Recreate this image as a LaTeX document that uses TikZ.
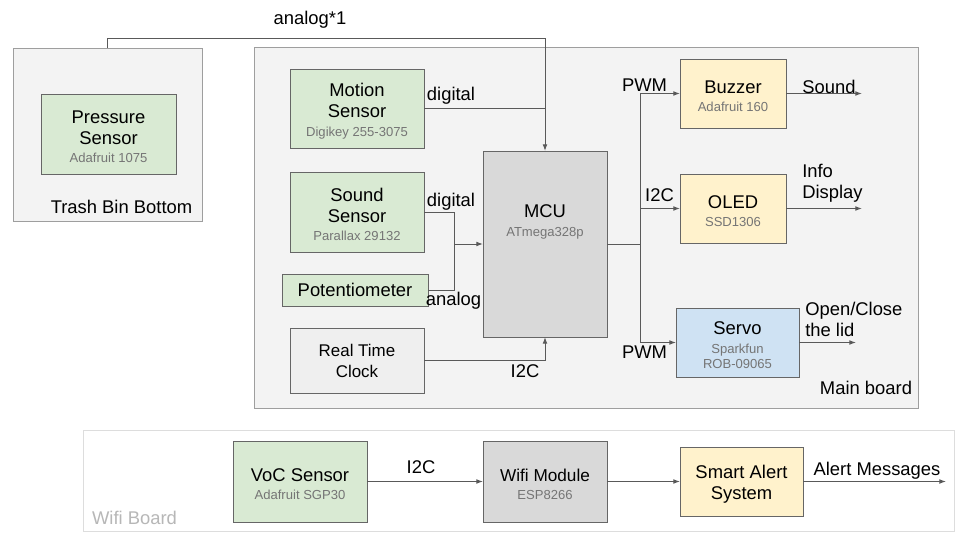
\documentclass[tikz,border=0pt]{standalone}
\usepackage{fontspec}
\setmainfont{Liberation Sans}
\usetikzlibrary{arrows.meta}
\definecolor{lineC}{HTML}{595959}
\definecolor{boxC}{HTML}{666666}
\definecolor{contC}{HTML}{9E9E9E}
\definecolor{contF}{HTML}{F3F3F3}
\definecolor{wifiC}{HTML}{DDDDDD}
\definecolor{grnF}{HTML}{D9EAD3}
\definecolor{ylwF}{HTML}{FFF2CC}
\definecolor{bluF}{HTML}{CFE2F3}
\definecolor{mcuF}{HTML}{D9D9D9}
\definecolor{rtcF}{HTML}{EFEFEF}
\definecolor{subC}{HTML}{757575}
\definecolor{wbC}{HTML}{B7B7B7}
\newcommand{\mainf}{\fontsize{13.8}{15.75}\selectfont}
\newcommand{\subf}{\fontsize{9.8}{11.5}\selectfont\color{subC}}
\newcommand{\rtcf}{\fontsize{12.7}{15.75}\selectfont}
\newcommand{\tp}{\rule{0pt}{14pt}}
\tikzset{
  container/.style={draw=contC, fill=contF, line width=0.75pt, inner sep=0pt, outer sep=0pt},
  blk/.style={draw=boxC, line width=0.75pt, align=center, inner sep=0pt, outer sep=0pt, font=\mainf},
  grn/.style={blk, fill=grnF},
  ylw/.style={blk, fill=ylwF},
  blu/.style={blk, fill=bluF},
  lbl/.style={font=\mainf, inner sep=0pt},
  conn/.style={draw=lineC, line width=0.75pt},
  arr/.style={conn, -{Latex[length=5pt,width=3.6pt]}},
}
\begin{document}
\begin{tikzpicture}[x=0.75pt,y=-0.75pt]
\useasboundingbox (0,0) rectangle (960,540);
% containers
\node[container, minimum width=141.75pt, minimum height=129.75pt] (trash) at (107.5,134.5) {};
\node[container, minimum width=498pt, minimum height=270.75pt] (mainb) at (586,227.5) {};
\node[container, draw=wifiC, fill=white, minimum width=653.25pt, minimum height=75.75pt] (wifib) at (518.5,480.5) {};
% container labels
\node[lbl] (trashl) at (121.5,207) {Trash Bin Bottom};
\node[lbl] (mainl) at (866,388) {Main board};
\node[lbl, text=wbC] (wifil) at (134.5,518) {Wifi Board};
% blocks
\node[grn, minimum width=101.25pt, minimum height=60pt] (press) at (108.5,134) {\tp Pressure\\Sensor\\[-2pt]{\subf Adafruit 1075}};
\node[grn, minimum width=100.5pt, minimum height=59.25pt] (motion) at (357,108.5) {\tp Motion\\Sensor\\[-2pt]{\subf Digikey 255-3075}};
\node[grn, minimum width=100.5pt, minimum height=60pt] (sound) at (357,212) {\tp Sound\\Sensor\\[-2pt]{\subf Parallax 29132}};
\node[grn, minimum width=109.5pt, minimum height=24pt] (pot) at (355,290) {Potentiometer};
\node[blk, fill=rtcF, font=\rtcf, minimum width=100.5pt, minimum height=48.75pt] (rtc) at (357,360.5) {Real Time\\Clock};
\node[blk, fill=mcuF, minimum width=93pt, minimum height=139.5pt] (mcu) at (545,244) {};
\node[lbl, align=center] (mcut) at (545,222) {MCU\\[-2pt]{\subf ATmega328p}};
\node[ylw, minimum width=79.5pt, minimum height=51.75pt] (buzz) at (733,93.5) {\tp Buzzer\\[-2pt]{\subf Adafruit 160}};
\node[ylw, minimum width=79.5pt, minimum height=51.75pt] (oled) at (733,208.5) {\tp OLED\\[-2pt]{\subf SSD1306}};
\node[blu, minimum width=92.25pt, minimum height=51.75pt] (servo) at (737.5,342.5) {\tp Servo\\[-2pt]{\subf Sparkfun}\\[-4pt]{\subf ROB-09065}};
\node[grn, minimum width=100.5pt, minimum height=60.75pt] (voc) at (300,481.5) {\tp VoC Sensor\\[-2pt]{\subf Adafruit SGP30}};
\node[blk, fill=mcuF, minimum width=93pt, minimum height=60.75pt] (wifim) at (545,481.5) {{\fontsize{12.9}{15}\selectfont\tp Wifi Module}\\[-2pt]{\subf ESP8266}};
\node[ylw, minimum width=92.25pt, minimum height=51.75pt] (alert) at (741.5,481.5) {\tp Smart Alert\\System};
% free ends and junctions
\coordinate (jn) at (454,244);
\coordinate (bj) at (640,244);
\coordinate (sndE) at (862,93.5);
\coordinate (infE) at (862,208.5);
\coordinate (lidE) at (856,342.5);
\coordinate (almE) at (946,481.5);
% connectors
\draw[arr] (trash.north) -- ++(0,-10) -| (mcu.north);
\draw[conn] (motion.east) -- (motion.east -| mcu.north);
\draw[conn] (sound.east) -| (jn);
\draw[conn] (pot.east) -| (jn);
\draw[arr] (jn) -- (mcu.west);
\draw[arr] (rtc.east) -| (mcu.south);
\draw[conn] (mcu.east) -- (bj);
\draw[arr] (bj) |- (buzz.west);
\draw[arr] (bj) |- (oled.west);
\draw[arr] (bj) |- (servo.west);
\draw[arr] (buzz.east) -- (sndE);
\draw[arr] (oled.east) -- (infE);
\draw[arr] (servo.east) -- (lidE);
\draw[arr] (voc.east) -- (wifim.west);
\draw[arr] (wifim.east) -- (alert.west);
\draw[arr] (alert.east) -- (almE);
% connector labels
\node[lbl] (l1) at (310,20) {analog*1};
\node[lbl] (l2) at (451,96) {digital};
\node[lbl] (l3) at (451,202) {digital};
\node[lbl] (l4) at (453.5,301) {analog};
\node[lbl] (l5) at (525,371) {I2C};
\node[lbl] (l6) at (644.5,85) {PWM};
\node[lbl] (l7) at (659.5,195) {I2C};
\node[lbl] (l8) at (644.5,352) {PWM};
\node[lbl] (l9) at (829,87) {Sound};
\node[lbl, align=left, anchor=west] (l10) at (802,183) {Info\\Display};
\node[lbl, align=left, anchor=west] (l11) at (805,319) {Open/Close\\the lid};
\node[lbl] (l12) at (421,467) {I2C};
\node[lbl] (l13) at (877,471) {Alert Messages};
\end{tikzpicture}
\end{document}
